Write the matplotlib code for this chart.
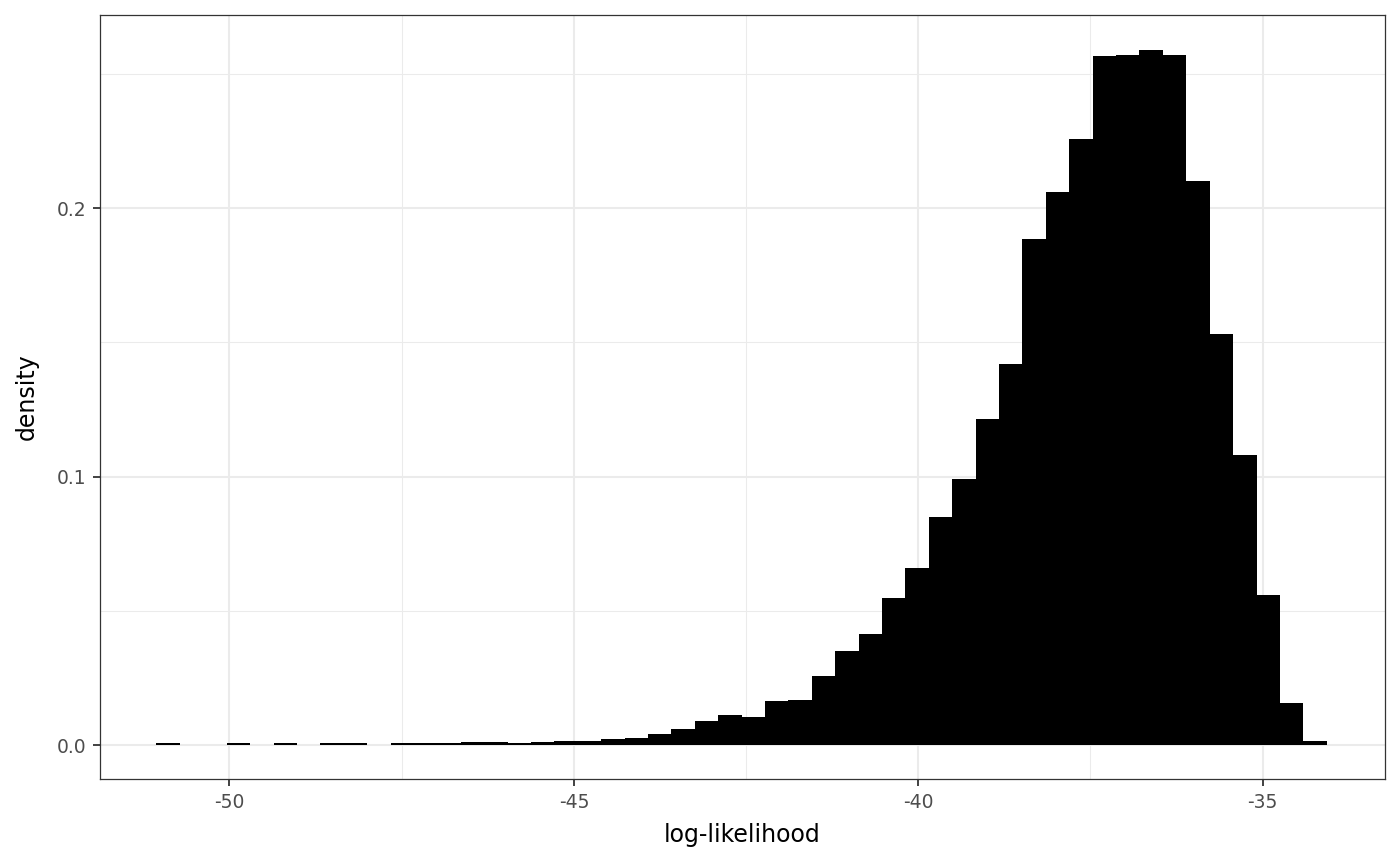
import numpy as np
import matplotlib
matplotlib.use("Agg")
import matplotlib.pyplot as plt
from matplotlib.ticker import MultipleLocator, FormatStrFormatter

# histogram of log-likelihood, 50 bins
bin_lo, bin_hi, n_bins = -51.06, -34.07, 50
density = [
    0.0007, 0.0, 0.0, 0.0007, 0.0, 0.0007, 0.0, 0.0007, 0.0007, 0.0,
    0.0007, 0.0007, 0.0007, 0.0010, 0.0010, 0.0007, 0.0012, 0.0016, 0.0016, 0.0022,
    0.0026, 0.0041, 0.0060, 0.0089, 0.0112, 0.0104, 0.0164, 0.0168, 0.0257, 0.0350,
    0.0413, 0.0549, 0.0658, 0.0851, 0.0989, 0.1216, 0.1419, 0.1884, 0.2058, 0.2259,
    0.2566, 0.2571, 0.2588, 0.2571, 0.2102, 0.1531, 0.1081, 0.0558, 0.0157, 0.0014,
]
x_ticks = [-50, -45, -40, -35]
y_ticks = [0.0, 0.1, 0.2]

edges = np.linspace(bin_lo, bin_hi, n_bins + 1)
dens = np.array(density)
keep = dens > 0

W, H = 1400, 865
fig = plt.figure(figsize=(W / 100, H / 100), dpi=100)
ax = fig.add_axes([100 / W, 1 - 779 / H, (1385 - 100) / W, (779 - 15) / H])

ax.bar(edges[:-1][keep], dens[keep], width=np.diff(edges)[keep], align="edge",
       color="black", edgecolor="none", zorder=3)

ax.set_xlim(-51.88, -33.224)
ax.set_ylim(-0.01266, 0.2719)

ax.set_xticks(x_ticks)
ax.set_yticks(y_ticks)
ax.xaxis.set_minor_locator(MultipleLocator(2.5))
ax.yaxis.set_minor_locator(MultipleLocator(0.05))
ax.yaxis.set_major_formatter(FormatStrFormatter("%.1f"))
ax.set_xticklabels([str(t) for t in x_ticks])

ax.grid(which="major", color="#EBEBEB", linewidth=1.5, zorder=0)
ax.grid(which="minor", color="#EBEBEB", linewidth=0.75, zorder=0)
ax.set_axisbelow(True)

for s in ax.spines.values():
    s.set_color("#333333")
    s.set_linewidth(0.9)

ax.tick_params(which="major", length=5, width=1.3, color="#333333",
               labelsize=13.5, labelcolor="#4D4D4D", pad=5)
ax.tick_params(which="minor", length=0)

ax.set_xlabel("log-likelihood", fontsize=17, color="black", labelpad=8)
ax.set_ylabel("density", fontsize=17, color="black", labelpad=13)

fig.savefig("out.png", dpi=100, facecolor="white")
